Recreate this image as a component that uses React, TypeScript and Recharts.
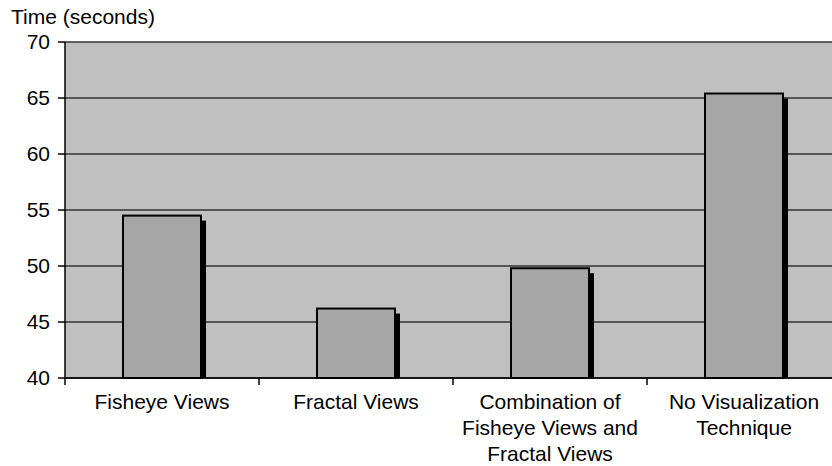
import React from 'react';
import { BarChart, Bar, XAxis, YAxis, CartesianGrid } from 'recharts';

// Mean completion time per visualization technique
const categories = [
  'Fisheye Views',
  'Fractal Views',
  'Combination of\nFisheye Views and\nFractal Views',
  'No Visualization\nTechnique',
];
const times = [54.5, 46.2, 49.8, 65.4];
const yTicks = [40, 45, 50, 55, 60, 65, 70];
const yAxisTitle = 'Time (seconds)';

const data = categories.map((name, i) => ({ name, time: times[i] }));

const FONT = 'Arial, "Liberation Sans", sans-serif';
const X_TICK_SIZE = 7;
const X_TICK_MARGIN = 2;

// Bar with a dark drop shadow on its right side
const ShadowedBar = (props: any) => {
  const { x, y, width, height } = props;
  const off = 5;
  return (
    <g>
      <rect x={x + off} y={y + off} width={width} height={Math.max(height - off, 0)} fill="#000" />
      <rect x={x} y={y} width={width} height={height} fill="#a6a6a6" stroke="#000" strokeWidth={2} />
    </g>
  );
};

// Multi-line category label, with a tick mark on the left edge of its band
const CategoryTick = (props: any) => {
  const { x, y, payload, width, visibleTicksCount } = props;
  const lines = String(payload.value).split('\n');
  const half = width / (visibleTicksCount || 1) / 2;
  const axisY = y - X_TICK_SIZE - X_TICK_MARGIN;
  return (
    <g>
      <line
        x1={x - half}
        x2={x - half}
        y1={axisY}
        y2={axisY + X_TICK_SIZE}
        stroke="#000"
        strokeWidth={1.5}
      />
      <text x={x} y={y} textAnchor="middle" fontSize={21} fill="#000" fontFamily={FONT}>
        {lines.map((line, i) => (
          <tspan key={i} x={x} dy={i === 0 ? 22 : 26}>
            {line}
          </tspan>
        ))}
      </text>
    </g>
  );
};

const AxisTitle = (props: any) => {
  const vb = props.viewBox || { x: 0, y: 42 };
  return (
    <text x={vb.x + 11} y={vb.y - 18} fontSize={21} fill="#000" fontFamily={FONT}>
      {yAxisTitle}
    </text>
  );
};

export default function App() {
  return (
    <div
      style={{
        position: 'fixed',
        left: 0,
        top: 0,
        width: 832,
        height: 466,
        overflow: 'hidden',
        background: '#fff',
      }}
    >
      <BarChart
        width={850}
        height={466}
        data={data}
        margin={{ top: 42, right: 9, bottom: 0, left: 0 }}
      >
        <CartesianGrid
          vertical={false}
          fill="#c0c0c0"
          stroke="#333"
          strokeWidth={1.5}
          fillOpacity={1}
        />
        <XAxis
          dataKey="name"
          interval={0}
          height={88}
          tick={<CategoryTick />}
          tickLine={false}
          tickSize={X_TICK_SIZE}
          tickMargin={X_TICK_MARGIN}
          axisLine={{ stroke: '#000', strokeWidth: 1.5 }}
        />
        <YAxis
          domain={[40, 70]}
          ticks={yTicks}
          width={65}
          tickSize={7}
          tickMargin={8}
          tick={{ fontSize: 21, fill: '#000', fontFamily: FONT }}
          tickLine={{ stroke: '#000', strokeWidth: 1.5 }}
          axisLine={{ stroke: '#000', strokeWidth: 1.5 }}
          label={{ content: <AxisTitle /> }}
        />
        <Bar dataKey="time" barSize={78} shape={<ShadowedBar />} isAnimationActive={false} />
      </BarChart>
    </div>
  );
}
